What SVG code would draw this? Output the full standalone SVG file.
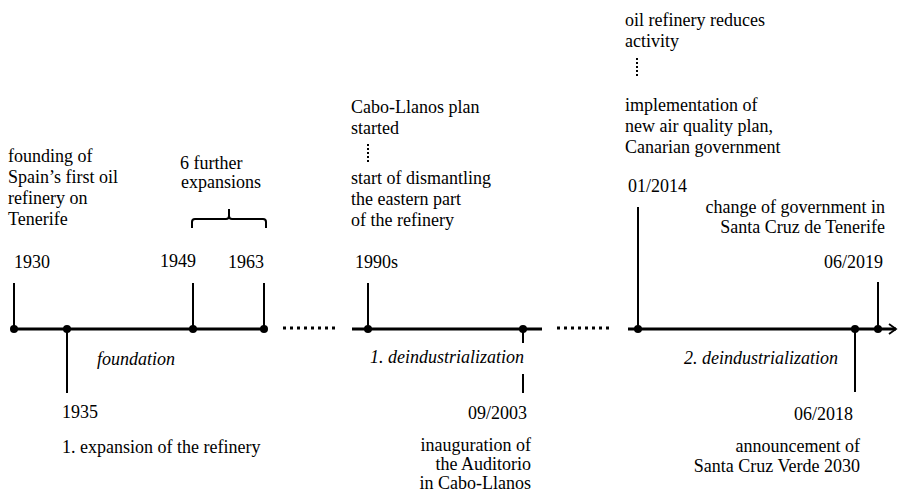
<svg xmlns="http://www.w3.org/2000/svg" width="899" height="494" viewBox="0 0 899 494">
<style>
text{font-family:"Liberation Serif","Times New Roman",serif;font-size:18px;fill:#000}
.it{font-style:italic}
.r{text-anchor:end}
.axis{stroke:#000;stroke-width:3;fill:none}
.tick{stroke:#000;stroke-width:2;fill:none}
.dots{stroke:#000;stroke-width:3;stroke-dasharray:3,4;fill:none}
.vdots{stroke:#000;stroke-width:2;stroke-dasharray:2,2;fill:none}
.dot{fill:#000}
</style>
<defs>
<marker id="arr" markerWidth="10" markerHeight="12" refX="8" refY="6" orient="auto" markerUnits="userSpaceOnUse">
<path d="M1,1 L8,6 L1,11" fill="none" stroke="#000" stroke-width="1.8"/>
</marker>
</defs>
<g id="connectors">
<line class="axis" x1="12" y1="329" x2="264" y2="329"/>
<line class="dots" x1="283" y1="328" x2="338" y2="328"/>
<line class="axis" x1="352" y1="329" x2="542" y2="329"/>
<line class="dots" x1="557" y1="328" x2="612" y2="328"/>
<line class="axis" x1="628" y1="329" x2="896" y2="329" marker-end="url(#arr)"/>
<line class="tick" x1="14" y1="283" x2="14" y2="329"/>
<line class="tick" x1="67" y1="329" x2="67" y2="393"/>
<line class="tick" x1="193" y1="283" x2="193" y2="329"/>
<line class="tick" x1="264" y1="283" x2="264" y2="329"/>
<line class="tick" x1="368" y1="283" x2="368" y2="329"/>
<line class="tick" x1="523" y1="329" x2="523" y2="343"/>
<line class="tick" x1="523" y1="374" x2="523" y2="393"/>
<line class="tick" x1="638" y1="207" x2="638" y2="329"/>
<line class="tick" x1="855" y1="329" x2="855" y2="392"/>
<line class="tick" x1="878" y1="282" x2="878" y2="329"/>
<path class="tick" d="M192,228 V222 Q192,219 195,219 H226 Q229,219 229,216 V209 M229,216 Q229,219 232,219 H263 Q266,219 266,222 V228"/>
<line class="vdots" x1="368" y1="144" x2="368" y2="164"/>
<line class="vdots" x1="637" y1="58" x2="637" y2="78"/>
</g>
<g id="n1930">
<circle class="dot" cx="14" cy="329" r="4"/>
<text x="14" y="268">1930</text>
<text x="8" y="162">founding of</text>
<text x="8" y="183">Spain’s first oil</text>
<text x="8" y="204">refinery on</text>
<text x="8" y="225">Tenerife</text>
</g>
<g id="n1935">
<circle class="dot" cx="67" cy="329" r="4"/>
<text x="62" y="418">1935</text>
<text x="62" y="453">1. expansion of the refinery</text>
</g>
<g id="foundation"><text class="it" x="97" y="365">foundation</text></g>
<g id="n1949">
<circle class="dot" cx="193" cy="329" r="4"/>
<text class="r" x="196" y="267">1949</text>
</g>
<g id="n1963">
<circle class="dot" cx="264" cy="329" r="4"/>
<text class="r" x="264" y="268">1963</text>
</g>
<g id="expansions">
<text x="180" y="169">6 further</text>
<text x="181" y="188">expansions</text>
</g>
<g id="n1990s">
<circle class="dot" cx="368" cy="329" r="4"/>
<text x="355" y="268">1990s</text>
<text x="351" y="113">Cabo-Llanos plan</text>
<text x="351" y="134">started</text>
<text x="351" y="184">start of dismantling</text>
<text x="351" y="205">the eastern part</text>
<text x="351" y="226">of the refinery</text>
</g>
<g id="deind1"><text class="it r" x="524" y="363">1. deindustrialization</text></g>
<g id="n2003">
<circle class="dot" cx="523" cy="329" r="4"/>
<text class="r" x="527" y="419">09/2003</text>
<text class="r" x="531" y="451">inauguration of</text>
<text class="r" x="531" y="470">the Auditorio</text>
<text class="r" x="531" y="489">in Cabo-Llanos</text>
</g>
<g id="n2014">
<circle class="dot" cx="638" cy="329" r="4"/>
<text x="628" y="192">01/2014</text>
<text x="625" y="26">oil refinery reduces</text>
<text x="625" y="47">activity</text>
<text x="625" y="111">implementation of</text>
<text x="625" y="132">new air quality plan,</text>
<text x="625" y="153">Canarian government</text>
</g>
<g id="deind2"><text class="it r" x="838" y="364">2. deindustrialization</text></g>
<g id="n2018">
<circle class="dot" cx="855" cy="329" r="4"/>
<text class="r" x="853" y="420">06/2018</text>
<text class="r" x="860" y="452">announcement of</text>
<text class="r" x="860" y="472">Santa Cruz Verde 2030</text>
</g>
<g id="n2019">
<circle class="dot" cx="878" cy="329" r="4"/>
<text class="r" x="883" y="268">06/2019</text>
<text class="r" x="885" y="213">change of government in</text>
<text class="r" x="885" y="233">Santa Cruz de Tenerife</text>
</g>
</svg>
